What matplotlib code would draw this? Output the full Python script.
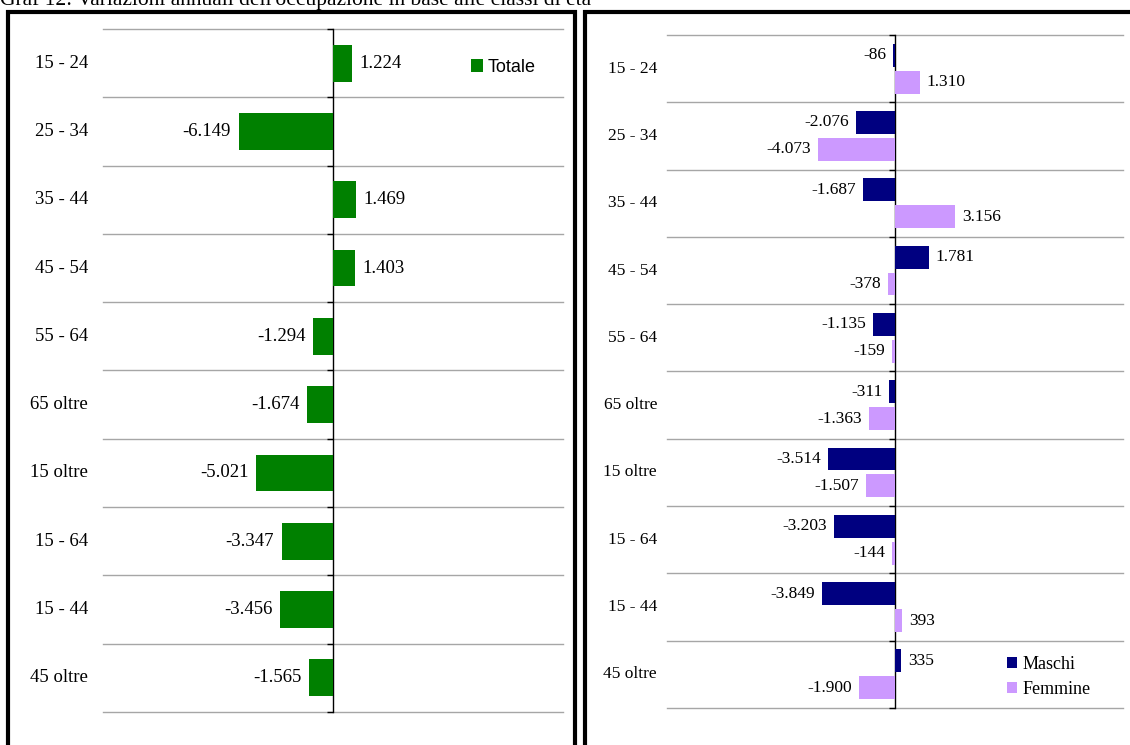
import matplotlib.pyplot as plt
from matplotlib.patches import Rectangle
from matplotlib.transforms import blended_transform_factory, offset_copy

# data (migliaia di occupati, variazione annua)
classi = ['15 - 24', '25 - 34', '35 - 44', '45 - 54', '55 - 64',
          '65 oltre', '15 oltre', '15 - 64', '15 - 44', '45 oltre']
totale = [1224, -6149, 1469, 1403, -1294, -1674, -5021, -3347, -3456, -1565]
maschi = [-86, -2076, -1687, 1781, -1135, -311, -3514, -3203, -3849, 335]
femmine = [1310, -4073, 3156, -378, -159, -1363, -1507, -144, 393, -1900]

titolo = "Graf 12: Variazioni annuali dell'occupazione in base alle classi di età"

SERIF = ['Liberation Serif', 'DejaVu Serif']
SANS = ['Liberation Sans', 'DejaVu Sans']


def fmt(v):
    # italian thousands separator
    return f"{v:,}".replace(',', '.')


def setup_axis(ax, lim, fs, pad_px):
    n = len(classi)
    ax.set_xlim(-lim, lim)
    ax.set_ylim(n - 0.5, -0.5)
    for s in ['top', 'right', 'bottom']:
        ax.spines[s].set_visible(False)
    ax.spines['left'].set_position(('data', 0))
    ax.spines['left'].set_color('black')
    ax.spines['left'].set_linewidth(1.0)
    ax.set_xticks([])
    ax.set_yticks([i - 0.5 for i in range(n + 1)])
    ax.set_yticklabels([])
    ax.tick_params(axis='y', direction='out', length=4, width=1, color='black')
    ax.grid(axis='y', color='#a6a6a6', linewidth=1.0)
    for gl in ax.get_ygridlines():
        gl.set_clip_on(False)
    ax.set_axisbelow(True)
    tr = blended_transform_factory(ax.transAxes, ax.transData)
    tr = offset_copy(tr, fig=ax.figure, x=-pad_px, units='dots')
    for i, c in enumerate(classi):
        ax.text(0, i, c, transform=tr, ha='right', va='center',
                fontsize=fs, family=SERIF)


def value_labels(ax, ys, vals, fs, gap):
    for y, v in zip(ys, vals):
        off = gap if v >= 0 else -gap
        ax.annotate(fmt(v), (v, y), xytext=(off, 0), textcoords='offset points',
                    ha='left' if v >= 0 else 'right', va='center',
                    fontsize=fs, family=SERIF)


fig = plt.figure(figsize=(11.3, 7.45), dpi=100)

W, H = 1130, 745


def px_axes(x0, y0, x1, y1):
    return fig.add_axes([x0 / W, 1 - y1 / H, (x1 - x0) / W, (y1 - y0) / H])


# panel frames
fig.patches.append(Rectangle((8 / W, -0.1), (575 - 8) / W, 1.1 - 12 / H,
                             transform=fig.transFigure, fill=False,
                             edgecolor='black', linewidth=3))
fig.patches.append(Rectangle((585 / W, -0.1), 0.6, 1.1 - 12 / H,
                             transform=fig.transFigure, fill=False,
                             edgecolor='black', linewidth=3))

fig.text(0.0, 1 - 5 / H, titolo, ha='left', va='baseline', fontsize=15.5, family=SERIF)

# left: totale
ax1 = px_axes(103, 29, 563, 712)
setup_axis(ax1, 15000, 13.5, 15)
ys = list(range(len(classi)))
ax1.barh(ys, totale, height=0.54, color='#008000', label='Totale', zorder=3)
value_labels(ax1, ys, totale, 13.5, 5.5)
ax1.legend(loc='center left', bbox_to_anchor=(0.78, 0.944), frameon=False,
           prop={'family': SANS, 'size': 13}, handlelength=0.7, handleheight=0.7,
           handletextpad=0.25, borderpad=0)

# right: maschi / femmine
ax2 = px_axes(667, 35, 1123, 708)
setup_axis(ax2, 12000, 12.5, 10)
ym = [i - 0.2 for i in ys]
yf = [i + 0.2 for i in ys]
ax2.barh(ym, maschi, height=0.34, color='#000080', label='Maschi', zorder=3)
ax2.barh(yf, femmine, height=0.34, color='#cc99ff', label='Femmine', zorder=3)
value_labels(ax2, ym, maschi, 12.5, 5)
value_labels(ax2, yf, femmine, 12.5, 5)
ax2.legend(loc='center left', bbox_to_anchor=(0.725, 0.046), frameon=False,
           prop={'family': SERIF, 'size': 13}, handlelength=0.6, handleheight=0.6,
           handletextpad=0.3, borderpad=0, labelspacing=0.45)

fig.savefig('out.png', dpi=100)
